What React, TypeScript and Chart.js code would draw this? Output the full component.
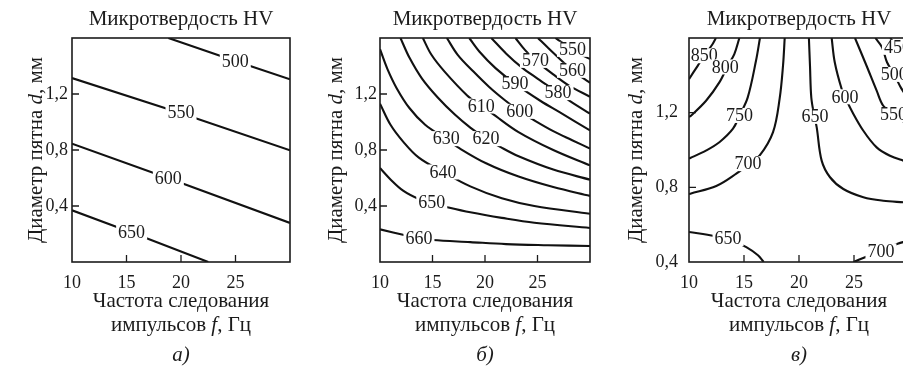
import React, { useEffect, useRef } from "react";
import { Chart, registerables } from "chart.js";

Chart.register(...registerables);

type Pt = [number, number];

const FONT = '"Liberation Serif", "Times New Roman", serif';
const INK = "#1b1b1b";

// ---------- shared axis ticks ----------
const xTickValues = [10, 15, 20, 25, 30];
const xTickLabels = ["10", "15", "20", "25", ""];
const yTickValuesAB = [0, 0.4, 0.8, 1.2, 1.6];
const yTickLabelsAB = ["", "0,4", "0,8", "1,2", ""];
const yTickValuesC = [0.4, 0.8, 1.2, 1.6];
const yTickLabelsC = ["0,4", "0,8", "1,2", ""];
const xInnerTicks = [15, 20, 25];
const yInnerTicksAB = [0.4, 0.8, 1.2];
const yInnerTicksC = [0.8, 1.2];

// ---------- panel а ----------
const a500: Pt[] = [[18.84, 1.6], [24.98, 1.436], [30, 1.305]];
const a550: Pt[] = [[10, 1.314], [20, 1.062], [30, 0.798]];
const a600: Pt[] = [[10, 0.845], [18.84, 0.598], [30, 0.279]];
const a650: Pt[] = [[10, 0.369], [15.47, 0.21], [22.5, 0]];
const labelTextA = [500, 550, 600, 650];
const labelPosA: Pt[] = [[24.98, 1.434], [20, 1.066], [18.84, 0.6], [15.47, 0.212]];

// ---------- panel б ----------
const b660: Pt[] = [[10, 0.233], [12.5, 0.19], [13.71, 0.17], [15, 0.157], [18.6, 0.142], [22, 0.128], [26, 0.12], [30, 0.114]];
const b650: Pt[] = [[10, 0.671], [11, 0.59], [12.2, 0.51], [13.7, 0.45], [14.93, 0.42], [16.5, 0.39], [18.6, 0.355], [21.6, 0.315], [24.7, 0.28], [30, 0.243]];
const b640: Pt[] = [[10, 1.131], [11, 0.98], [12.2, 0.86], [13.7, 0.745], [16, 0.643], [18.6, 0.54], [21.6, 0.455], [24.7, 0.4], [30, 0.345]];
const b630: Pt[] = [[10, 1.52], [10.7, 1.38], [11.6, 1.24], [12.8, 1.1], [14.3, 0.98], [16.3, 0.878], [17.4, 0.82], [20.1, 0.705], [23.2, 0.61], [26.5, 0.535], [30, 0.472]];
const b620: Pt[] = [[11.95, 1.6], [12.8, 1.46], [14, 1.31], [15.5, 1.175], [17.1, 1.055], [18.6, 0.96], [20.1, 0.881], [21.5, 0.82], [23.2, 0.755], [26.5, 0.66], [30, 0.588]];
const b610: Pt[] = [[14.08, 1.6], [14.9, 1.48], [16.15, 1.36], [18.3, 1.19], [19.65, 1.114], [20.7, 1.06], [23.15, 0.93], [26.5, 0.8], [30, 0.69]];
const b600: Pt[] = [[16.37, 1.6], [17.4, 1.48], [18.9, 1.36], [20.4, 1.25], [21.9, 1.155], [23.3, 1.076], [24.4, 1.025], [26.5, 0.935], [28.3, 0.87], [30, 0.81]];
const b590: Pt[] = [[18.5, 1.6], [19.5, 1.5], [21, 1.385], [22.85, 1.274], [25.3, 1.15], [27.1, 1.07], [30, 0.94]];
const b580: Pt[] = [[20.6, 1.6], [22, 1.49], [23.5, 1.39], [25, 1.31], [26.96, 1.21], [28.5, 1.13], [30, 1.06]];
const b570: Pt[] = [[22.9, 1.6], [23.8, 1.515], [24.8, 1.44], [26.5, 1.34], [28, 1.26], [30, 1.18]];
const b560: Pt[] = [[25.04, 1.6], [26, 1.53], [27.2, 1.445], [28.33, 1.369], [29.2, 1.32], [30, 1.28]];
const b550: Pt[] = [[26.7, 1.6], [27.5, 1.56], [28.33, 1.519], [29.2, 1.48], [30, 1.45]];
const labelTextB = [660, 650, 640, 630, 620, 610, 600, 590, 580, 570, 560, 550];
const labelPosB: Pt[] = [
  [13.71, 0.17], [14.93, 0.424], [16.0, 0.643], [16.3, 0.881], [20.1, 0.881], [19.65, 1.114],
  [23.3, 1.076], [22.85, 1.274], [26.96, 1.21], [24.8, 1.44], [28.33, 1.369], [28.33, 1.519],
];

// ---------- panel в ----------
const c850: Pt[] = [[10, 1.38], [10.79, 1.451], [11.39, 1.505], [12.15, 1.568], [12.45, 1.6]];
const c800: Pt[] = [[14.58, 1.6], [14.12, 1.514], [13.52, 1.451], [12.76, 1.362], [11.55, 1.264], [10.18, 1.184], [10, 1.178]];
const c750: Pt[] = [[16.45, 1.6], [16.09, 1.478], [15.34, 1.282], [14.6, 1.185], [14.0, 1.114], [12.79, 1.043], [11.58, 0.998], [10.12, 0.957], [10, 0.955]];
const c700: Pt[] = [[18.7, 1.6], [18.55, 1.454], [18.24, 1.275], [17.64, 1.096], [16.43, 0.971], [15.36, 0.922], [14.3, 0.873], [12.48, 0.807], [10.12, 0.766], [10, 0.764]];
const c650: Pt[] = [[20.9, 1.6], [21.0, 1.45], [21.12, 1.28], [21.4, 1.18], [21.61, 1.121], [22.06, 0.943], [22.82, 0.854], [24.03, 0.791], [25.85, 0.747], [27.66, 0.728], [29.48, 0.72], [30, 0.718]];
const c600: Pt[] = [[22.97, 1.6], [23.25, 1.47], [23.88, 1.327], [24.3, 1.27], [24.79, 1.21], [25.85, 1.103], [27.06, 1.014], [28.27, 0.969], [29.48, 0.943], [30, 0.935]];
const c550: Pt[] = [[25.09, 1.6], [26.15, 1.45], [27.06, 1.318], [27.66, 1.237], [28.6, 1.19], [29.03, 1.166], [30, 1.14]];
const c500: Pt[] = [[26.94, 1.6], [27.55, 1.55], [28.0, 1.47], [28.65, 1.405], [29.3, 1.33], [30, 1.27]];
const c450: Pt[] = [[28.3, 1.6], [28.95, 1.55], [30, 1.5]];
const c650low: Pt[] = [[10, 0.561], [12.33, 0.539], [13.55, 0.525], [15.21, 0.48], [16.27, 0.436], [16.79, 0.4]];
const c700low: Pt[] = [[24.97, 0.4], [26.33, 0.434], [27.5, 0.461], [28.9, 0.497], [30, 0.515]];
const labelTextC = [850, 800, 750, 700, 650, 600, 550, 500, 450, 650, 700];
const labelPosC: Pt[] = [
  [11.39, 1.505], [13.3, 1.445], [14.6, 1.185], [15.36, 0.927], [21.45, 1.18], [24.18, 1.285],
  [28.6, 1.19], [28.65, 1.405], [28.95, 1.55], [13.55, 0.525], [27.45, 0.46],
];

// ---------- texts ----------
const chartTitle = "Микротвердость HV";
const yTitle = [{ t: "Диаметр пятна " }, { t: "d", i: true }, { t: ", мм" }];
const xTitle1 = [{ t: "Частота следования" }];
const xTitle2 = [{ t: "импульсов " }, { t: "f", i: true }, { t: ", Гц" }];

type Seg = { t: string; i?: boolean };

interface PanelSpec {
  left: number;
  width: number;
  yAxisWidth: number;
  padRight: number;
  yMin: number;
  yMax: number;
  yTicks: number[];
  yLabels: string[];
  yInner: number[];
  yTickPad: number;
  lines: Pt[][];
  tension: number;
  labelText: number[];
  labelPos: Pt[];
  caption: string;
}

const panels: PanelSpec[] = [
  {
    left: 0, width: 300, yAxisWidth: 72, padRight: 10, yMin: 0, yMax: 1.6,
    yTicks: yTickValuesAB, yLabels: yTickLabelsAB, yInner: yInnerTicksAB, yTickPad: 4,
    lines: [a500, a550, a600, a650], tension: 0,
    labelText: labelTextA, labelPos: labelPosA, caption: "а)",
  },
  {
    left: 300, width: 300, yAxisWidth: 80, padRight: 2, yMin: 0, yMax: 1.6,
    yTicks: yTickValuesAB, yLabels: yTickLabelsAB, yInner: yInnerTicksAB, yTickPad: 3,
    lines: [b660, b650, b640, b630, b620, b610, b600, b590, b580, b570, b560, b550], tension: 0.35,
    labelText: labelTextB, labelPos: labelPosB, caption: "б)",
  },
  {
    left: 600, width: 320, yAxisWidth: 89, padRight: 11, yMin: 0.4, yMax: 1.6,
    yTicks: yTickValuesC, yLabels: yTickLabelsC, yInner: yInnerTicksC, yTickPad: 11,
    lines: [c850, c800, c750, c700, c650, c600, c550, c500, c450, c650low, c700low], tension: 0.35,
    labelText: labelTextC, labelPos: labelPosC, caption: "в)",
  },
];

const CANVAS_H = 369;
const PLOT_TOP = 38;
const PLOT_BOTTOM = 262;
const TEXT_SIZE = 21;
const TICK_SIZE = 18;
const LABEL_SIZE = 18;

function drawRich(ctx: CanvasRenderingContext2D, segs: Seg[], x: number, y: number, size: number) {
  const fonts = segs.map((s) => `${s.i ? "italic " : ""}${size}px ${FONT}`);
  const widths = segs.map((s, k) => {
    ctx.font = fonts[k];
    return ctx.measureText(s.t).width;
  });
  const total = widths.reduce((a, b) => a + b, 0);
  let cx = x - total / 2;
  ctx.textAlign = "left";
  ctx.textBaseline = "middle";
  segs.forEach((s, k) => {
    ctx.font = fonts[k];
    ctx.fillText(s.t, cx, y);
    cx += widths[k];
  });
}

function lookupLabel(values: number[], labels: string[], v: number) {
  const i = values.findIndex((t) => Math.abs(t - v) < 1e-6);
  return i >= 0 ? labels[i] : "";
}

function makeDecor(p: PanelSpec) {
  return {
    id: "decor",
    afterDatasetsDraw(chart: any) {
      const ctx: CanvasRenderingContext2D = chart.ctx;
      const xs = chart.scales.x;
      const ys = chart.scales.y;
      ctx.save();
      ctx.font = `${LABEL_SIZE}px ${FONT}`;
      ctx.textAlign = "center";
      ctx.textBaseline = "middle";
      p.labelPos.forEach(([f, d], i) => {
        const x = xs.getPixelForValue(f);
        const y = ys.getPixelForValue(d);
        const t = String(p.labelText[i]);
        const w = ctx.measureText(t).width;
        ctx.fillStyle = "#fff";
        ctx.fillRect(x - w / 2 - 2, y - 7.5, w + 4, 15);
        ctx.fillStyle = INK;
        ctx.fillText(t, x, y + 1);
      });
      ctx.restore();
    },
    afterDraw(chart: any) {
      const ctx: CanvasRenderingContext2D = chart.ctx;
      const a = chart.chartArea;
      const xs = chart.scales.x;
      const ys = chart.scales.y;
      ctx.save();
      ctx.strokeStyle = INK;
      ctx.lineWidth = 1.6;
      ctx.strokeRect(a.left, a.top, a.right - a.left, a.bottom - a.top);
      ctx.lineWidth = 1.3;
      ctx.beginPath();
      xInnerTicks.forEach((v) => {
        const x = xs.getPixelForValue(v);
        ctx.moveTo(x, a.bottom);
        ctx.lineTo(x, a.bottom - 7);
      });
      p.yInner.forEach((v) => {
        const y = ys.getPixelForValue(v);
        ctx.moveTo(a.left, y);
        ctx.lineTo(a.left + 7, y);
      });
      ctx.stroke();

      ctx.fillStyle = INK;
      const cx = (a.left + a.right) / 2;
      drawRich(ctx, [{ t: chartTitle }], cx, 19, TEXT_SIZE);
      drawRich(ctx, xTitle1, cx, 301, TEXT_SIZE);
      drawRich(ctx, xTitle2, cx, 325, TEXT_SIZE);
      drawRich(ctx, [{ t: p.caption, i: true }], cx, 355, TEXT_SIZE);

      ctx.save();
      ctx.translate(36, (a.top + a.bottom) / 2);
      ctx.rotate(-Math.PI / 2);
      drawRich(ctx, yTitle, 0, 0, TEXT_SIZE);
      ctx.restore();
      ctx.restore();
    },
  };
}

function Panel({ spec }: { spec: PanelSpec }) {
  const ref = useRef<HTMLCanvasElement | null>(null);
  useEffect(() => {
    if (!ref.current) return;
    const datasets = spec.lines.map((pts) => ({
      data: pts.map(([x, y]) => ({ x, y })),
      showLine: true,
      borderColor: "#111",
      borderWidth: 2.1,
      pointRadius: 0,
      pointHoverRadius: 0,
      tension: spec.tension,
      fill: false,
    }));
    const chart = new Chart(ref.current, {
      type: "scatter",
      data: { datasets },
      options: {
        animation: false,
        responsive: false,
        maintainAspectRatio: false,
        events: [],
        layout: { padding: { left: 0, right: spec.padRight, top: PLOT_TOP, bottom: 0 } },
        plugins: {
          legend: { display: false },
          tooltip: { enabled: false },
          title: { display: false },
        },
        scales: {
          x: {
            type: "linear",
            position: "bottom",
            min: 10,
            max: 30,
            grid: { display: false, drawTicks: false },
            border: { display: false },
            ticks: {
              autoSkip: false,
              maxRotation: 0,
              padding: 10,
              color: INK,
              font: { family: FONT, size: TICK_SIZE },
              callback: (v: any) => lookupLabel(xTickValues, xTickLabels, Number(v)),
            },
            afterBuildTicks: (s: any) => {
              s.ticks = xTickValues.map((value) => ({ value }));
            },
            afterFit: (s: any) => {
              s.height = CANVAS_H - PLOT_BOTTOM;
            },
          },
          y: {
            type: "linear",
            position: "left",
            min: spec.yMin,
            max: spec.yMax,
            grid: { display: false, drawTicks: false },
            border: { display: false },
            ticks: {
              autoSkip: false,
              padding: spec.yTickPad,
              color: INK,
              font: { family: FONT, size: TICK_SIZE },
              callback: (v: any) => lookupLabel(spec.yTicks, spec.yLabels, Number(v)),
            },
            afterBuildTicks: (s: any) => {
              s.ticks = spec.yTicks.map((value) => ({ value }));
            },
            afterFit: (s: any) => {
              s.width = spec.yAxisWidth;
            },
          },
        },
      } as any,
      plugins: [makeDecor(spec) as any],
    });
    return () => chart.destroy();
  }, [spec]);
  return (
    <canvas
      ref={ref}
      width={spec.width}
      height={CANVAS_H}
      style={{ position: "absolute", left: spec.left, top: 0, width: spec.width, height: CANVAS_H, display: "block" }}
    />
  );
}

export default function App() {
  return (
    <div
      style={{
        position: "fixed",
        left: 0,
        top: 0,
        width: 903,
        height: 369,
        overflow: "hidden",
        background: "#fff",
      }}
    >
      {panels.map((p, i) => (
        <Panel key={i} spec={p} />
      ))}
    </div>
  );
}
